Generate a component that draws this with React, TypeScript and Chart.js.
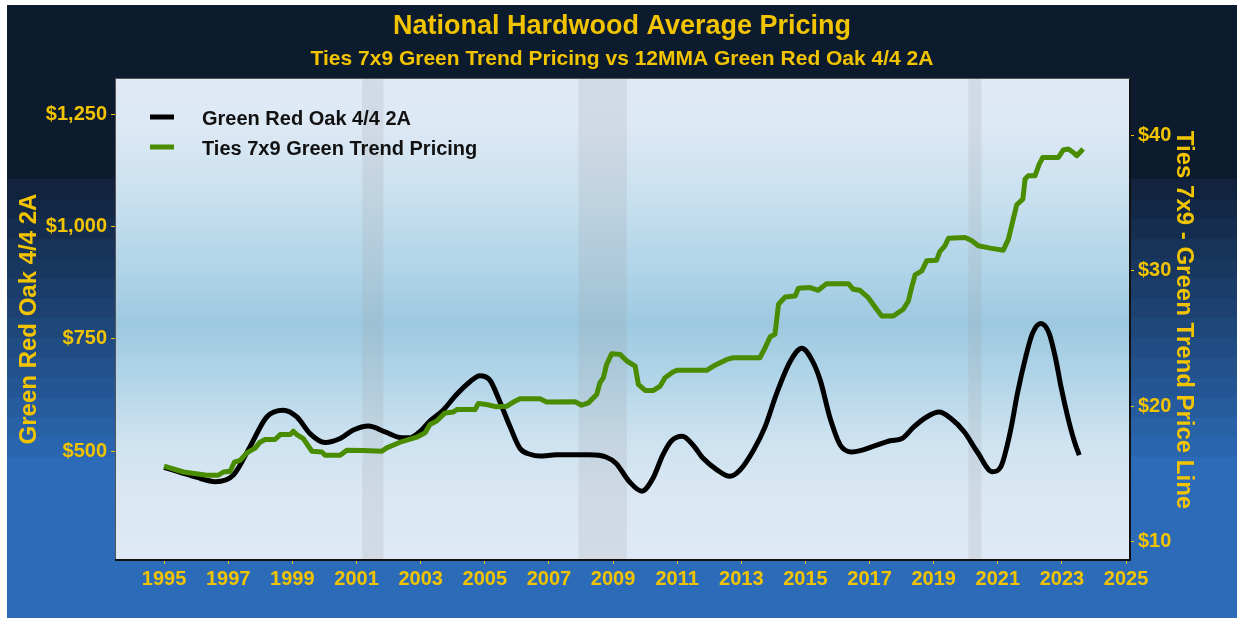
import React, { useEffect, useRef } from "react";
import { Chart, registerables } from "chart.js";

Chart.register(...registerables);

// ---------- data ----------
const oakYears = [1995.0, 1995.5, 1996.0, 1996.6, 1997.16, 1997.68, 1998.2, 1998.72, 1999.14, 1999.55, 2000.02, 2000.49, 2000.9, 2001.37, 2001.89, 2002.41, 2002.67, 2003.03, 2003.29, 2003.7, 2004.12, 2004.53, 2004.85, 2005.16, 2005.47, 2005.79, 2006.1, 2006.41, 2006.72, 2007.24, 2008.26, 2008.78, 2009.09, 2009.51, 2009.9, 2010.24, 2010.55, 2010.81, 2011.16, 2011.5, 2011.81, 2012.23, 2012.64, 2012.96, 2013.38, 2013.74, 2014.1, 2014.52, 2014.89, 2015.2, 2015.46, 2015.77, 2016.09, 2016.45, 2016.71, 2017.13, 2017.65, 2018.01, 2018.38, 2018.78, 2019.17, 2019.53, 2019.95, 2020.36, 2020.83, 2021.09, 2021.4, 2021.61, 2021.87, 2022.08, 2022.34, 2022.6, 2022.81, 2022.97, 2023.18, 2023.39, 2023.54];
const oakPrices = [464, 453, 442, 432, 447, 510, 576, 591, 576, 539, 519, 528, 547, 556, 543, 530, 530, 547, 567, 591, 626, 654, 668, 658, 610, 554, 506, 493, 489, 492, 492, 487, 473, 432, 411, 439, 491, 522, 533, 513, 484, 459, 444, 458, 502, 554, 628, 699, 729, 703, 658, 573, 513, 498, 501, 511, 523, 528, 554, 576, 587, 573, 543, 498, 454, 465, 547, 628, 710, 762, 784, 762, 703, 643, 576, 521, 491];

const tiesYears = [1995.0, 1995.6, 1996.33, 1996.69, 1996.85, 1997.06, 1997.19, 1997.37, 1997.58, 1997.84, 1997.99, 1998.15, 1998.46, 1998.62, 1998.93, 1999.03, 1999.14, 1999.34, 1999.61, 1999.92, 2000.02, 2000.49, 2000.7, 2001.21, 2001.79, 2001.94, 2002.36, 2002.88, 2003.14, 2003.29, 2003.5, 2003.76, 2004.02, 2004.13, 2004.7, 2004.8, 2005.06, 2005.37, 2005.69, 2005.89, 2006.1, 2006.72, 2006.93, 2007.82, 2008.02, 2008.23, 2008.49, 2008.59, 2008.7, 2008.8, 2008.96, 2009.22, 2009.43, 2009.69, 2009.79, 2010.0, 2010.26, 2010.47, 2010.62, 2010.88, 2010.99, 2011.92, 2012.13, 2012.55, 2012.75, 2013.58, 2013.74, 2013.9, 2014.05, 2014.16, 2014.37, 2014.68, 2014.78, 2015.15, 2015.4, 2015.66, 2016.34, 2016.49, 2016.7, 2016.96, 2017.22, 2017.38, 2017.74, 2018.05, 2018.21, 2018.31, 2018.42, 2018.63, 2018.78, 2019.09, 2019.19, 2019.35, 2019.46, 2019.98, 2020.19, 2020.39, 2020.76, 2021.17, 2021.33, 2021.48, 2021.59, 2021.78, 2021.85, 2021.95, 2022.16, 2022.29, 2022.4, 2022.89, 2023.04, 2023.2, 2023.35, 2023.46, 2023.66];
const tiesPrices = [15.57, 15.14, 14.9, 14.9, 15.14, 15.2, 15.86, 16.0, 16.55, 16.9, 17.34, 17.54, 17.54, 17.9, 17.9, 18.15, 17.9, 17.6, 16.67, 16.62, 16.38, 16.38, 16.75, 16.73, 16.67, 16.92, 17.34, 17.71, 18.03, 18.65, 18.9, 19.5, 19.56, 19.75, 19.75, 20.2, 20.12, 19.95, 20.0, 20.3, 20.54, 20.54, 20.3, 20.32, 20.07, 20.24, 20.86, 21.72, 22.1, 23.08, 23.87, 23.82, 23.33, 22.96, 21.6, 21.16, 21.16, 21.48, 22.1, 22.54, 22.64, 22.64, 22.96, 23.45, 23.57, 23.57, 24.3, 25.12, 25.3, 27.52, 28.06, 28.13, 28.7, 28.75, 28.55, 29.04, 29.04, 28.62, 28.55, 28.0, 27.15, 26.65, 26.65, 27.15, 27.76, 28.74, 29.68, 29.98, 30.72, 30.77, 31.4, 31.83, 32.39, 32.44, 32.2, 31.83, 31.66, 31.51, 32.32, 33.8, 34.86, 35.28, 36.76, 37.0, 37.0, 37.86, 38.35, 38.35, 38.9, 38.97, 38.72, 38.48, 38.97];

const xTickYears = [1995, 1997, 1999, 2001, 2003, 2005, 2007, 2009, 2011, 2013, 2015, 2017, 2019, 2021, 2023, 2025];
const oakTicks = [500, 750, 1000, 1250];
const tiesTicks = [10, 20, 30, 40];

const recessionStarts = [2001.18, 2007.92, 2020.08];
const recessionEnds = [2001.84, 2009.43, 2020.49];

const titleText = "National Hardwood Average Pricing";
const subtitleText = "Ties 7x9 Green Trend Pricing vs 12MMA Green Red Oak 4/4 2A";
const oakLabel = "Green Red Oak 4/4 2A";
const tiesLabel = "Ties 7x9 Green Trend Pricing";
const leftAxisTitle = "Green Red Oak 4/4 2A";
const rightAxisTitle = "Ties 7x9 - Green Trend Price Line";

// ---------- styles ----------
const W = 1244;
const H = 622;
const GOLD = "#f2c400";
const FONT = "'Liberation Sans', Arial, Helvetica, sans-serif";
const OAK_COLOR = "#000000";
const TIES_COLOR = "#4a8c00";

const decorPlugin = {
  id: "decor",
  beforeDraw(chart: any) {
    const ctx = chart.ctx;
    const { left, top, right, bottom } = chart.chartArea;
    ctx.save();
    ctx.fillStyle = "#ffffff";
    ctx.fillRect(0, 0, W, H);
    // outer panel
    const px0 = 7, py0 = 5, px1 = 1237, py1 = 618;
    ctx.fillStyle = "#0d1b2f";
    ctx.fillRect(px0, py0, px1 - px0, py1 - py0);
    const bandTop = 179, bandBottom = 457, n = 14;
    const c0 = [15, 30, 52];
    const c1 = [44, 107, 184];
    const bh = (bandBottom - bandTop) / n;
    for (let i = 0; i < n; i++) {
      const t = (i + 1) / (n + 1);
      const c = c0.map((v, k) => Math.round(v + (c1[k] - v) * t));
      ctx.fillStyle = `rgb(${c[0]},${c[1]},${c[2]})`;
      ctx.fillRect(px0, bandTop + i * bh, px1 - px0, bh + 1);
    }
    ctx.fillStyle = `rgb(${c1[0]},${c1[1]},${c1[2]})`;
    ctx.fillRect(px0, bandBottom, px1 - px0, py1 - bandBottom);

    // plot background
    const g = ctx.createLinearGradient(0, top, 0, bottom);
    g.addColorStop(0, "#dfeaf6");
    g.addColorStop(0.106, "#dce8f4");
    g.addColorStop(0.25, "#c8e0ef");
    g.addColorStop(0.4, "#b0d4e8");
    g.addColorStop(0.51, "#9dc9e0");
    g.addColorStop(0.625, "#b2d5e8");
    g.addColorStop(0.75, "#cde2f0");
    g.addColorStop(0.856, "#dae7f3");
    g.addColorStop(1, "#dee9f5");
    ctx.fillStyle = g;
    ctx.fillRect(left, top, right - left, bottom - top);
    ctx.restore();
  },
  beforeDatasetsDraw(chart: any) {
    const ctx = chart.ctx;
    const { top, bottom } = chart.chartArea;
    const xs = chart.scales.x;
    ctx.save();
    ctx.fillStyle = "rgba(160,160,165,0.2)";
    for (let i = 0; i < recessionStarts.length; i++) {
      const a = xs.getPixelForValue(recessionStarts[i]);
      const b = xs.getPixelForValue(recessionEnds[i]);
      ctx.fillRect(a, top, b - a, bottom - top);
    }
    ctx.restore();
  },
  afterDraw(chart: any) {
    const ctx = chart.ctx;
    const { left, top, right, bottom } = chart.chartArea;
    ctx.save();
    // border
    ctx.strokeStyle = "#555";
    ctx.lineWidth = 1;
    ctx.strokeRect(left - 0.5, top - 0.5, right - left + 1, bottom - top + 1);
    ctx.strokeStyle = "#111";
    ctx.lineWidth = 2;
    ctx.beginPath();
    ctx.moveTo(left - 1, bottom + 1);
    ctx.lineTo(right + 1, bottom + 1);
    ctx.lineTo(right + 1, top);
    ctx.stroke();

    // titles
    ctx.fillStyle = GOLD;
    ctx.textAlign = "center";
    ctx.textBaseline = "alphabetic";
    ctx.font = `bold 27px ${FONT}`;
    ctx.fillText(titleText, W / 2, 34);
    ctx.font = `bold 21px ${FONT}`;
    ctx.fillText(subtitleText, W / 2, 65);

    // axis titles
    ctx.font = `bold 24px ${FONT}`;
    ctx.save();
    ctx.translate(36, 319);
    ctx.rotate(-Math.PI / 2);
    ctx.fillText(leftAxisTitle, 0, 0);
    ctx.restore();
    ctx.save();
    ctx.translate(1177, 320);
    ctx.rotate(Math.PI / 2);
    ctx.fillText(rightAxisTitle, 0, 0);
    ctx.restore();

    // legend
    const items = chart.data.datasets.map((d: any) => ({ label: d.label, color: d.borderColor }));
    const order = [oakLabel, tiesLabel];
    ctx.textAlign = "left";
    ctx.font = `bold 20px ${FONT}`;
    order.forEach((lab, i) => {
      const it = items.find((x: any) => x.label === lab);
      const y = 117 + i * 30;
      ctx.strokeStyle = it.color;
      ctx.lineWidth = 5;
      ctx.beginPath();
      ctx.moveTo(150, y);
      ctx.lineTo(174, y);
      ctx.stroke();
      ctx.fillStyle = "#111";
      ctx.fillText(lab, 202, y + 8);
    });
    ctx.restore();
  },
};

export default function App() {
  const ref = useRef<HTMLCanvasElement | null>(null);

  useEffect(() => {
    if (!ref.current) return;
    const tickFont = { family: FONT, size: 20, weight: "bold" as const };
    const chart = new Chart(ref.current, {
      type: "line",
      data: {
        datasets: [
          {
            label: oakLabel,
            data: oakYears.map((x, i) => ({ x, y: oakPrices[i] })),
            borderColor: OAK_COLOR,
            borderWidth: 5,
            pointRadius: 0,
            cubicInterpolationMode: "monotone",
            yAxisID: "y",
            order: 1,
          },
          {
            label: tiesLabel,
            data: tiesYears.map((x, i) => ({ x, y: tiesPrices[i] })),
            borderColor: TIES_COLOR,
            borderWidth: 5,
            pointRadius: 0,
            tension: 0,
            borderJoinStyle: "round",
            yAxisID: "y1",
            order: 0,
          },
        ],
      },
      options: {
        animation: false,
        responsive: false,
        devicePixelRatio: 1,
        layout: { padding: { top: 79, left: 0, right: 0, bottom: 0 } },
        plugins: {
          legend: { display: false },
          tooltip: { enabled: false },
          title: { display: false },
        },
        scales: {
          x: {
            type: "linear",
            position: "bottom",
            min: 1993.5,
            max: 2025.09,
            afterFit: (s: any) => { s.height = 63; },
            afterBuildTicks: (s: any) => { s.ticks = xTickYears.map((v) => ({ value: v })); },
            ticks: {
              color: GOLD,
              font: tickFont,
              padding: 3,
              autoSkip: false,
              maxRotation: 0,
              callback: (v: any) => String(v),
            },
            grid: { drawOnChartArea: false, drawTicks: true, tickLength: 5, tickColor: GOLD, color: GOLD },
            border: { display: false },
          },
          y: {
            type: "linear",
            position: "left",
            min: 260,
            max: 1328,
            afterFit: (s: any) => { s.width = 116; },
            afterBuildTicks: (s: any) => { s.ticks = oakTicks.map((v) => ({ value: v })); },
            ticks: {
              color: GOLD,
              font: tickFont,
              padding: 4,
              callback: (v: any) => "$" + Number(v).toLocaleString("en-US"),
            },
            grid: { drawOnChartArea: false, drawTicks: true, tickLength: 5, tickColor: GOLD, color: GOLD },
            border: { display: false },
          },
          y1: {
            type: "linear",
            position: "right",
            min: 8.72,
            max: 44.14,
            afterFit: (s: any) => { s.width = 115; },
            afterBuildTicks: (s: any) => { s.ticks = tiesTicks.map((v) => ({ value: v })); },
            ticks: {
              color: GOLD,
              font: tickFont,
              padding: 4,
              callback: (v: any) => "$" + v,
            },
            grid: { drawOnChartArea: false, drawTicks: true, tickLength: 5, tickColor: GOLD, color: GOLD },
            border: { display: false },
          },
        },
      },
      plugins: [decorPlugin],
    });
    return () => chart.destroy();
  }, []);

  return (
    <div style={{ position: "fixed", left: 0, top: 0, width: W, height: H, background: "#fff" }}>
      <canvas ref={ref} width={W} height={H} style={{ width: W, height: H, display: "block" }} />
    </div>
  );
}
